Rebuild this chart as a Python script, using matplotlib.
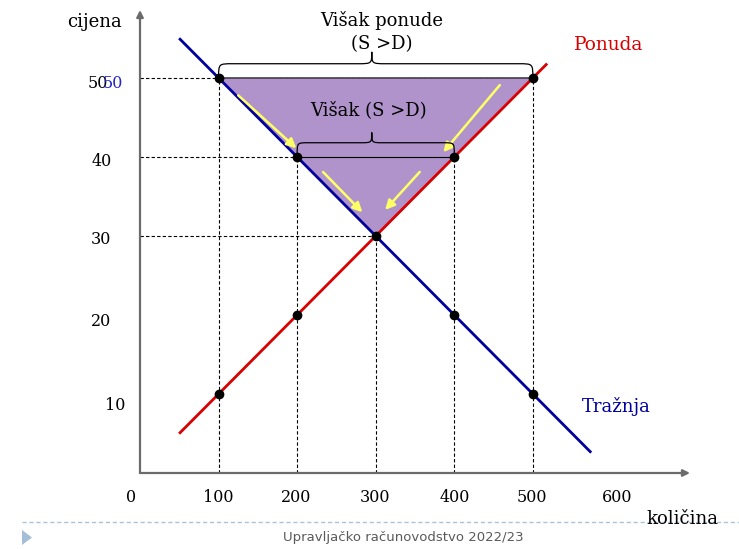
import matplotlib
matplotlib.use("Agg")
import matplotlib.pyplot as plt
from matplotlib.path import Path
from matplotlib.patches import PathPatch, Polygon

W, H = 739, 549

# ── Data ─────────────────────────────────────────────────────────────────────
qty_ticks = [0, 100, 200, 300, 400, 500, 600]
price_ticks = [10, 20, 30, 40, 50]

# demand: P = 60 - Q/10, supply: P = Q/10 (line extents)
demand_q = [51, 573]
demand_p = [54.9, 2.7]
supply_q = [51, 517]
supply_p = [5.1, 51.7]

# marked points on both curves
dot_q = [100, 500, 200, 400, 300, 200, 400, 100, 500]
dot_p = [50, 50, 40, 40, 30, 20, 20, 10, 10]

# surplus triangle (price 50 -> equilibrium)
tri_q = [100, 500, 300]
tri_p = [50, 50, 30]

# guide lines: (price, quantity reached)
guide_p = [50, 40, 30]
guide_q_h = [500, 400, 300]
guide_v_q = [100, 200, 300, 400, 500]
guide_v_p = [50, 40, 30, 40, 50]

# yellow arrows (start q, start p, end q, end p)
arrows_y = [
    (125, 47.8, 199, 41.1),
    (458, 49.1, 386, 40.6),
    (233, 38.1, 283, 33.0),
    (356, 38.1, 312, 33.3),
]

BLUE = "#00009c"
RED = "#d90000"
PURPLE = "#b093cb"
SERIF = "DejaVu Serif"

fig = plt.figure(figsize=(W / 100, H / 100), dpi=100)
fig.patch.set_facecolor("white")

# axes placed so Q=0 at x=140px, P=0 at y=473px
ax = fig.add_axes([140 / W, (H - 473) / H, 550 / W, 463 / H])
ax.set_xlim(0, 700)
ax.set_ylim(0, 58.6)
ax.axis("off")


def ftext(x, y, s, **kw):
    kw.setdefault("family", SERIF)
    kw.setdefault("ha", "center")
    kw.setdefault("va", "center")
    fig.text(x / W, 1 - y / H, s, **kw)


def brace(ax, x0, x1, xm, y_end, y_flat, y_tip, r=18):
    verts = [
        (x0, y_end), (x0, y_flat), (x0, y_flat), (x0 + r, y_flat),
        (xm - r, y_flat),
        (xm, y_flat), (xm, y_flat), (xm, y_tip),
        (xm, y_flat), (xm, y_flat), (xm + r, y_flat),
        (x1 - r, y_flat),
        (x1, y_flat), (x1, y_flat), (x1, y_end),
    ]
    codes = [Path.MOVETO, Path.CURVE4, Path.CURVE4, Path.CURVE4,
             Path.LINETO,
             Path.CURVE4, Path.CURVE4, Path.CURVE4,
             Path.CURVE4, Path.CURVE4, Path.CURVE4,
             Path.LINETO,
             Path.CURVE4, Path.CURVE4, Path.CURVE4]
    ax.add_patch(PathPatch(Path(verts, codes), facecolor="none",
                           edgecolor="black", lw=0.9, clip_on=False, zorder=6))


# axes arrows
for xy in [(0, 1.0), (1.0, 0)]:
    ax.annotate("", xy=xy, xytext=(0, 0), xycoords="axes fraction",
                arrowprops=dict(arrowstyle="-|>", color="#6b6b6b", lw=1.6,
                                mutation_scale=10, shrinkA=0, shrinkB=0))

# dashed guides
for p, q in zip(guide_p, guide_q_h):
    ax.plot([0, q], [p, p], color="black", lw=0.8, ls=(0, (3, 2)), zorder=2)
for q, p in zip(guide_v_q, guide_v_p):
    ax.plot([q, q], [0, p], color="black", lw=0.8, ls=(0, (3, 2)), zorder=2)

# surplus triangle
ax.add_patch(Polygon(list(zip(tri_q, tri_p)), closed=True, facecolor=PURPLE,
                     edgecolor="black", lw=0.8, zorder=3))
ax.plot([200, 400], [40, 40], color="black", lw=0.8, zorder=4)

# curves
ax.plot(demand_q, demand_p, color=BLUE, lw=2.0, zorder=5)
ax.plot(supply_q, supply_p, color=RED, lw=2.0, zorder=5)
ax.plot(dot_q, dot_p, "o", color="black", ms=6, zorder=7)

# yellow arrows
for q0, p0, q1, p1 in arrows_y:
    ax.annotate("", xy=(q1, p1), xytext=(q0, p0),
                arrowprops=dict(arrowstyle="-|>", color="#ffff66", lw=1.8,
                                mutation_scale=14, shrinkA=0, shrinkB=0),
                zorder=6)

# braces
brace(ax, 100, 500, 295, 50.0, 51.8, 53.3)
brace(ax, 200, 400, 295, 40.3, 41.8, 43.1, r=14)

# ── Texts ────────────────────────────────────────────────────────────────────
ftext(382, 20, "Višak ponude", fontsize=13)
ftext(382, 44, "(S >D)", fontsize=13)
ftext(368, 110, "Višak (S >D)", fontsize=13)
ftext(95, 22, "cijena", fontsize=13)
ftext(609, 45, "Ponuda", fontsize=13.3, color=RED)
ftext(616, 407, "Tražnja", fontsize=13, color=BLUE)
ftext(682, 519, "količina", fontsize=13)

xlab_px = [131, 218, 296, 375, 455, 532, 617]
for q, x in zip(qty_ticks, xlab_px):
    ftext(x, 497, str(q), fontsize=11.5)

ylab_px = [(115, 406), (101, 321), (101, 240), (102, 162), (98, 84)]
for p, (x, y) in zip(price_ticks, ylab_px):
    ftext(x, y, str(p), fontsize=11.5)
ftext(113, 84, "50", fontsize=11.5, color="#2626c8")

# ── Slide footer ─────────────────────────────────────────────────────────────
fig.lines.append(plt.Line2D([22 / W, 1], [1 - 522 / H] * 2, transform=fig.transFigure,
                            color="#a9c3dc", lw=1.0, ls=(0, (3, 2))))
tri_px = [(22, 530), (22, 545), (32, 537.5)]
fig.patches.append(Polygon([(x / W, 1 - y / H) for x, y in tri_px], closed=True,
                           transform=fig.transFigure, facecolor="#a5bdd6",
                           edgecolor="none"))
fig.text(403 / W, 1 - 537 / H, "Upravljačko računovodstvo 2022/23", ha="center",
         va="center", fontsize=9.5, color="#595959", family="DejaVu Sans")

fig.savefig("out.png", dpi=100, facecolor="white")
